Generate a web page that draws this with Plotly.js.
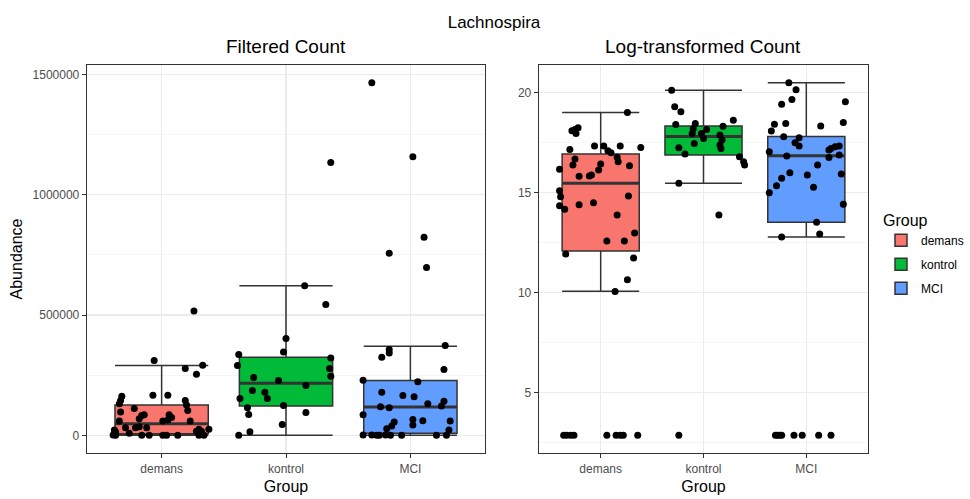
<!DOCTYPE html>
<html>
<head>
<meta charset="utf-8">
<script src="https://cdn.plot.ly/plotly-3.0.1.min.js"></script>
<style>html,body{margin:0;padding:0;background:#fff;}#chart{width:970px;height:499px;}</style>
</head>
<body>
<div id="chart"></div>
<script>
// ---- data ----
const groups = ["demans", "kontrol", "MCI"];
const groupColors = ["#F8766D", "#00BA38", "#619CFF"];

// Filtered Count: box statistics
const filtLower  = [0, 0, 0];
const filtQ1     = [6900, 121600, 8300];
const filtMedian = [48400, 217000, 117500];
const filtQ3     = [125800, 324800, 228000];
const filtUpper  = [290200, 621900, 370400];

// Log-transformed Count: box statistics
const logLower  = [10.07, 15.47, 12.78];
const logQ1     = [12.09, 16.88, 13.52];
const logMedian = [15.47, 17.81, 16.85];
const logQ3     = [16.93, 18.33, 17.81];
const logUpper  = [19.01, 20.12, 20.50];

// Filtered Count: individual samples (values and horizontal jitter)
const filtDemans = [311000, 277800, 291600, 254300, 517000, 163000, 145000, 131000, 167000, 167000, 145000, 125800, 103700, 112000, 96700, 83000, 69000, 85700, 85700, 74600, 63600, 59400, 60000, 59500, 36000, 31800, 31800, 31800, 24900, 24900, 16600, 16600, 22000, 13800, 1000, 0, 8300, 0, 0, 0, 0, 0, 0, 0];
const filtDemansJit = [-0.06, 0.19, 0.33, 0.28, 0.26, -0.32, -0.33, -0.34, -0.07, 0.05, 0.19, 0.20, 0.21, -0.22, -0.33, -0.16, -0.18, -0.14, 0.06, 0.08, 0.05, 0.01, 0.23, -0.34, -0.18, -0.12, -0.29, -0.21, 0.30, 0.38, 0.28, 0.32, -0.38, -0.37, -0.39, -0.37, -0.26, -0.16, -0.10, 0.01, 0.04, 0.13, 0.30, 0.34];
const filtKontrol = [621900, 544500, 1134800, 402200, 347000, 335800, 290200, 322000, 277800, 246000, 240500, 228000, 207300, 186600, 179600, 153400, 153400, 124400, 114800, 87000, 95400, 45600, 15200, 0];
const filtKontrolJit = [0.15, 0.32, 0.36, 0.00, -0.02, -0.38, -0.39, 0.36, 0.35, 0.36, -0.26, -0.06, 0.16, -0.27, -0.17, -0.15, -0.37, -0.02, -0.31, -0.30, 0.16, -0.03, -0.29, -0.38];
const filtMCI = [1466400, 1158000, 823800, 757500, 697800, 373100, 356600, 342700, 324800, 273600, 222500, 229400, 179700, 165800, 160300, 131300, 142300, 121600, 118900, 114700, 85700, 55300, 38700, 27600, 66300, 42900, 60800, 59400, 22100, 1400, 1000, 500, 800, 1200, 0, 600, 0, 0];
const filtMCIJit = [-0.31, 0.02, 0.11, -0.17, 0.13, 0.28, -0.17, -0.17, -0.23, 0.27, 0.06, -0.38, -0.23, -0.06, 0.03, 0.14, 0.27, 0.25, -0.24, -0.17, -0.38, -0.13, -0.15, -0.19, 0.02, 0.02, 0.10, 0.32, 0.31, -0.38, -0.31, -0.27, -0.25, -0.20, -0.16, -0.07, 0.21, 0.29];

// Log-transformed Count: individual samples
const logDemans = [19.01, 18.09, 18.16, 18.24, 17.96, 17.33, 17.33, 17.33, 17.26, 17.16, 17.09, 17.00, 16.77, 16.55, 16.68, 16.38, 16.17, 16.35, 16.43, 16.13, 15.88, 15.83, 15.82, 15.10, 14.80, 14.35, 14.17, 14.40, 14.50, 14.84, 13.89, 12.58, 12.59, 12.98, 11.93, 11.73, 10.65, 10.06, 2.87, 2.87, 2.87, 2.87, 2.87, 2.87, 2.87, 2.87, 2.87];
const logDemansJit = [0.26, -0.28, -0.25, -0.22, -0.24, -0.06, 0.03, 0.19, 0.39, -0.30, 0.07, 0.10, 0.16, 0.17, -0.25, -0.27, -0.40, 0.28, 0.00, -0.02, -0.09, -0.11, -0.21, -0.40, -0.39, -0.40, -0.35, -0.21, -0.07, 0.27, 0.16, 0.06, 0.23, 0.33, -0.34, 0.32, 0.26, 0.14, -0.36, -0.33, -0.29, -0.26, 0.06, 0.15, 0.19, 0.22, 0.36];
const logKontrol = [20.12, 19.29, 19.04, 18.62, 18.41, 18.46, 18.32, 18.20, 18.16, 17.96, 17.96, 17.88, 17.71, 17.63, 17.46, 17.21, 17.24, 16.93, 16.80, 16.55, 16.38, 15.47, 13.89, 2.87, 17.38];
const logKontrolJit = [-0.31, -0.28, -0.22, 0.29, -0.27, -0.08, 0.19, -0.10, 0.03, -0.11, -0.02, 0.16, 0.00, 0.18, -0.09, 0.17, -0.24, -0.18, 0.35, 0.39, 0.40, -0.24, 0.15, -0.24, 0.16];
const logMCI = [20.50, 20.15, 19.66, 19.42, 19.54, 18.42, 18.46, 18.08, 18.33, 18.51, 17.79, 17.74, 17.49, 17.33, 17.04, 16.83, 17.13, 17.21, 17.29, 17.33, 16.76, 16.88, 16.38, 16.00, 15.72, 15.35, 15.00, 15.88, 15.27, 15.93, 14.42, 13.52, 12.93, 12.78, 2.87, 2.87, 2.87, 2.87, 2.87, 2.87, 2.87, 2.87];
const logMCIJit = [-0.17, -0.10, -0.14, -0.24, 0.38, -0.31, -0.20, -0.34, 0.14, 0.36, -0.22, -0.07, -0.11, -0.07, -0.36, -0.19, 0.22, 0.24, 0.28, 0.32, 0.22, 0.32, 0.11, -0.16, -0.24, -0.29, -0.36, 0.01, 0.07, 0.34, 0.36, 0.10, 0.13, -0.24, -0.30, -0.28, -0.26, -0.24, -0.12, -0.04, 0.12, 0.24];

// ---- build traces ----
const FONT = "Liberation Sans, Arial, sans-serif";
const BOXW = 0.75;
const panels = [
  {xa: "x", ya: "y", lower: filtLower, q1: filtQ1, med: filtMedian, q3: filtQ3, upper: filtUpper,
   pts: [filtDemans, filtKontrol, filtMCI], jit: [filtDemansJit, filtKontrolJit, filtMCIJit], legend: false},
  {xa: "x2", ya: "y2", lower: logLower, q1: logQ1, med: logMedian, q3: logQ3, upper: logUpper,
   pts: [logDemans, logKontrol, logMCI], jit: [logDemansJit, logKontrolJit, logMCIJit], legend: true}
];

const traces = [];
panels.forEach(p => {
  groups.forEach((g, i) => {
    traces.push({
      type: "box", name: g, legendgroup: g, showlegend: p.legend,
      x: [i + 1], q1: [p.q1[i]], median: [p.med[i]], q3: [p.q3[i]],
      lowerfence: [p.lower[i]], upperfence: [p.upper[i]],
      width: BOXW, whiskerwidth: 1, boxpoints: false,
      fillcolor: groupColors[i], line: {color: "#333333", width: 1.5},
      xaxis: p.xa, yaxis: p.ya, hoverinfo: "skip"
    });
  });
  // thicker median lines (ggplot style)
  groups.forEach((g, i) => {
    traces.push({
      type: "scatter", mode: "lines", showlegend: false, hoverinfo: "skip",
      x: [i + 1 - BOXW / 2, i + 1 + BOXW / 2], y: [p.med[i], p.med[i]],
      line: {color: "#333333", width: 3}, xaxis: p.xa, yaxis: p.ya
    });
  });
  groups.forEach((g, i) => {
    traces.push({
      type: "scatter", mode: "markers", showlegend: false, name: g,
      x: p.pts[i].map((v, k) => i + 1 + p.jit[i][k]), y: p.pts[i],
      marker: {color: "#000000", size: 7},
      xaxis: p.xa, yaxis: p.ya
    });
  });
});

function rangeOf(arrs) {
  let mn = Infinity, mx = -Infinity;
  arrs.forEach(a => a.forEach(v => { if (v < mn) mn = v; if (v > mx) mx = v; }));
  const pad = (mx - mn) * 0.05;
  return [mn - pad, mx + pad];
}
const filtRange = rangeOf([filtDemans, filtKontrol, filtMCI, filtUpper, filtLower]);
const logRange = rangeOf([logDemans, logKontrol, logMCI, logUpper, logLower]);

const W = 970, H = 499;
const axisCommon = {
  showline: true, mirror: true, linecolor: "#333333", linewidth: 1.3,
  ticks: "outside", ticklen: 4, tickwidth: 1, tickcolor: "#333333",
  gridcolor: "#EBEBEB", gridwidth: 1.2, zeroline: false,
  tickfont: {family: FONT, size: 12, color: "#4D4D4D"}
};
const xCommon = Object.assign({}, axisCommon, {
  range: [0.4, 3.6], tickvals: [1, 2, 3], ticktext: groups,
  title: {text: "Group", font: {family: FONT, size: 16, color: "#000"}, standoff: 6}
});

const layout = {
  width: W, height: H,
  margin: {l: 0, r: 0, t: 0, b: 0},
  paper_bgcolor: "#FFFFFF", plot_bgcolor: "#FFFFFF",
  font: {family: FONT, color: "#000"},
  title: {text: "Lachnospira", x: 494 / W, xanchor: "center", y: 1 - 22 / H, yanchor: "middle",
          font: {family: FONT, size: 17, color: "#000"}},
  xaxis: Object.assign({}, xCommon, {domain: [87 / W, 485 / W], anchor: "y"}),
  xaxis2: Object.assign({}, xCommon, {domain: [539 / W, 868 / W], anchor: "y2"}),
  yaxis: Object.assign({}, axisCommon, {
    domain: [1 - 453 / H, 1 - 65 / H], anchor: "x", range: filtRange,
    dtick: 500000, tick0: 0, tickformat: "d",
    minor: {dtick: 250000, showgrid: true, gridcolor: "#F3F3F3", gridwidth: 0.8, ticks: ""},
    title: {text: "Abundance", font: {family: FONT, size: 16, color: "#000"}, standoff: 6}
  }),
  yaxis2: Object.assign({}, axisCommon, {
    domain: [1 - 453 / H, 1 - 65 / H], anchor: "x2", range: logRange,
    dtick: 5, tick0: 0,
    minor: {dtick: 2.5, showgrid: true, gridcolor: "#F3F3F3", gridwidth: 0.8, ticks: ""}
  }),
  annotations: [
    {text: "Filtered Count", xref: "paper", yref: "paper", x: 286 / W, y: 1 - 47 / H,
     xanchor: "center", yanchor: "middle", showarrow: false, font: {family: FONT, size: 19, color: "#000"}},
    {text: "Log-transformed Count", xref: "paper", yref: "paper", x: 703 / W, y: 1 - 47 / H,
     xanchor: "center", yanchor: "middle", showarrow: false, font: {family: FONT, size: 19, color: "#000"}}
  ],
  legend: {
    x: 881 / W, xanchor: "left", y: 1 - 205 / H, yanchor: "top",
    title: {text: "Group", font: {family: FONT, size: 16, color: "#000"}},
    font: {family: FONT, size: 12, color: "#000"}, tracegroupgap: 5,
    bgcolor: "rgba(0,0,0,0)"
  },
  showlegend: true
};

Plotly.newPlot("chart", traces, layout, {displayModeBar: false, staticPlot: true});
</script>
</body>
</html>
